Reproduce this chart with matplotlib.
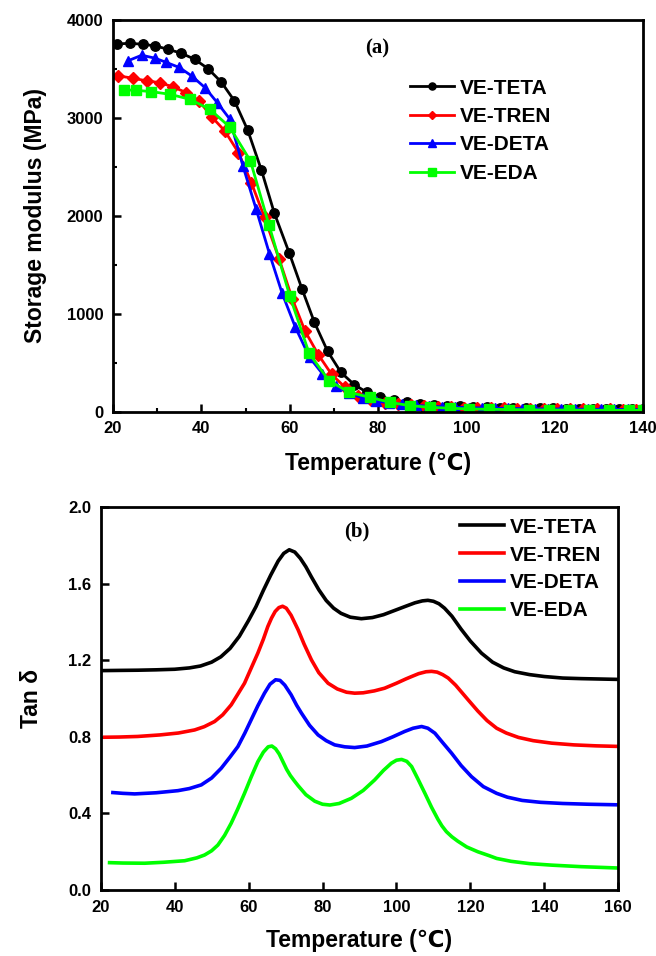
import numpy as np
import matplotlib.pyplot as plt
from matplotlib.ticker import MultipleLocator

plt.rcParams['font.family'] = ['Liberation Sans', 'DejaVu Sans']
plt.rcParams['font.weight'] = 'bold'

# ---- (a) storage modulus ----
teta_t = [20.9, 23.8, 26.7, 29.6, 32.5, 35.5, 38.5, 41.5, 44.5, 47.5, 50.5, 53.6, 56.5, 59.9,
          62.8, 65.6, 68.6, 71.6, 74.6, 77.5, 80.5, 83.5, 86.6, 89.6, 92.6, 95.6, 98.6, 101.6,
          104.6, 107.6, 110.6, 113.6, 116.6, 119.6, 122.6, 125.6, 128.6, 131.6, 134.6, 137.6, 140]
teta_e = [3755, 3762, 3752, 3735, 3700, 3660, 3598, 3503, 3367, 3173, 2874, 2466, 2030, 1620,
          1251, 911, 615, 401, 276, 197, 153, 119, 95, 80, 68, 60, 54, 49,
          45, 42, 39, 37, 35, 33, 31, 30, 29, 28, 27, 26, 25]

tren_t = [21.2, 24.6, 27.6, 30.6, 33.6, 36.6, 39.5, 42.3, 45.3, 48.4, 51.3, 54.3, 57.6, 60.6,
          63.5, 66.5, 69.5, 72.5, 75.5, 78.5, 81.5, 84.5, 87.5, 90.5, 93.5, 96.5, 99.5, 102.5,
          105.5, 108.5, 111.5, 114.5, 117.5, 120.5, 123.5, 126.5, 129.5, 132.5, 135.5, 138.5]
tren_e = [3429, 3405, 3378, 3360, 3316, 3258, 3173, 3013, 2867, 2646, 2340, 1983, 1560, 1150,
          820, 580, 380, 250, 160, 115, 90, 75, 63, 55, 49, 45, 41, 38,
          35, 33, 31, 29, 27, 26, 25, 24, 23, 22, 21, 20]

deta_t = [23.3, 26.5, 29.5, 32.1, 35.0, 37.8, 40.8, 43.6, 46.4, 49.4, 52.4, 55.4, 58.3, 61.3,
          64.5, 67.4, 70.5, 73.5, 76.5, 79.5, 82.5, 85.5, 88.5, 91.5, 94.5, 97.5, 100.5, 103.5,
          106.5, 109.5, 112.5, 115.5, 118.5, 121.5, 124.5, 127.5, 130.5, 133.5, 136.5, 139.5]
deta_e = [3582, 3640, 3610, 3566, 3515, 3429, 3310, 3156, 2990, 2510, 2068, 1615, 1207, 860,
          554, 388, 265, 190, 140, 110, 90, 75, 64, 56, 50, 45, 41, 38,
          35, 33, 31, 29, 28, 27, 26, 25, 24, 23, 22, 21]

eda_t = [22.5, 25.3, 28.7, 32.9, 37.4, 41.9, 46.4, 51.1, 55.3, 60.0, 64.4, 68.9, 73.5, 78.2,
         82.7, 87.2, 91.7, 96.2, 100.7, 105.2, 109.7, 114.2, 118.7, 123.2, 127.7, 132.2, 136.7, 140]
eda_e = [3286, 3282, 3268, 3241, 3190, 3088, 2908, 2561, 1908, 1184, 595, 316, 197, 146,
         95, 61, 45, 35, 28, 24, 21, 19, 17, 16, 15, 14, 13, 13]

# ---- (b) tan delta ----
tan_teta_t = [20.6, 25, 30, 35, 40, 44, 47, 50, 52.5, 55, 57.5, 60, 62, 64, 66, 68, 69.5, 71,
              72.5, 74, 75.5, 77, 79, 81, 83, 85, 87.5, 90.5, 93.5, 96.5, 99.5, 102.5, 105, 107,
              108.5, 110, 111.5, 113, 115, 117.5, 120, 123, 126, 129, 132, 136, 140, 145, 150,
              155, 160]
tan_teta = [1.146, 1.147, 1.148, 1.150, 1.153, 1.160, 1.170, 1.190, 1.218, 1.262, 1.325, 1.408,
            1.480, 1.565, 1.645, 1.718, 1.758, 1.777, 1.765, 1.732, 1.688, 1.635, 1.568, 1.512,
            1.472, 1.445, 1.425, 1.417, 1.423, 1.438, 1.460, 1.482, 1.500, 1.510, 1.513, 1.508,
            1.495, 1.472, 1.430, 1.362, 1.300, 1.237, 1.190, 1.160, 1.140, 1.125, 1.115, 1.107,
            1.104, 1.102, 1.100]

tan_tren_t = [21.1, 25, 30, 36, 41, 45.4, 48, 50.8, 53, 55.3, 57, 58.9, 60.5, 62.5, 64, 65.2,
              66.2, 67.2, 68.2, 69.2, 70.2, 71.5, 73.4, 75, 77, 79, 81.5, 84, 86.5, 88.7, 91, 94,
              96.8, 100, 102.5, 104.1, 106, 108, 109.5, 111, 112.5, 114, 116, 119.4, 122, 124.5,
              127.1, 129.7, 133, 137, 142, 148, 154, 160]
tan_tren = [0.798, 0.799, 0.802, 0.810, 0.820, 0.836, 0.853, 0.880, 0.915, 0.967, 1.020, 1.080,
            1.150, 1.237, 1.310, 1.376, 1.420, 1.455, 1.475, 1.482, 1.472, 1.435, 1.359, 1.285,
            1.202, 1.135, 1.080, 1.050, 1.033, 1.028, 1.030, 1.040, 1.054, 1.080, 1.102, 1.115,
            1.130, 1.140, 1.142, 1.138, 1.125, 1.107, 1.070, 0.993, 0.935, 0.885, 0.845, 0.820,
            0.797, 0.780, 0.767, 0.758, 0.753, 0.750]

tan_deta_t = [23.3, 26, 29.2, 35, 40.9, 44, 47.2, 50, 52.6, 55, 57.1, 59, 60.7, 62.5, 64.3,
              65.8, 67.3, 68.5, 69.8, 71.5, 73, 74.3, 76.5, 78.8, 81, 83.3, 86, 88.7, 92, 95.9,
              99, 102.2, 104.5, 106.8, 108.5, 110.4, 112.5, 114.9, 117.5, 120.3, 123.5, 127.1,
              130, 134, 139, 145, 152, 160]
tan_deta = [0.509, 0.505, 0.502, 0.508, 0.519, 0.530, 0.549, 0.585, 0.636, 0.695, 0.749, 0.820,
            0.889, 0.962, 1.028, 1.075, 1.098, 1.095, 1.070, 1.020, 0.965, 0.924, 0.860, 0.810,
            0.780, 0.758, 0.748, 0.744, 0.752, 0.775, 0.800, 0.828, 0.845, 0.854, 0.845, 0.819,
            0.770, 0.715, 0.650, 0.592, 0.540, 0.505, 0.485, 0.468, 0.458, 0.452, 0.448, 0.445]

tan_eda_t = [22.4, 26, 31.9, 37, 42.7, 46, 48.1, 50, 51.7, 53.5, 55.3, 57, 58.9, 60.7, 62.5, 64,
             65.3, 66.3, 67.3, 68.3, 69.3, 70.3, 71.3, 72.3, 73.4, 75.5, 77.9, 80, 82, 84.5, 87.8,
             91, 94.1, 96.5, 98.6, 100, 101.4, 102.8, 104.1, 105.8, 107.7, 109.5, 111.2, 112.3,
             113.5, 115, 116.6, 119, 122, 125, 127.1, 131, 136, 142, 150, 160]
tan_eda = [0.143, 0.141, 0.140, 0.145, 0.153, 0.168, 0.183, 0.205, 0.235, 0.285, 0.349, 0.420,
           0.505, 0.590, 0.670, 0.720, 0.748, 0.752, 0.738, 0.710, 0.670, 0.630, 0.598, 0.572,
           0.545, 0.498, 0.464, 0.448, 0.444, 0.452, 0.479, 0.520, 0.575, 0.625, 0.662, 0.678,
           0.682, 0.672, 0.645, 0.580, 0.505, 0.432, 0.370, 0.335, 0.305, 0.278, 0.255, 0.225,
           0.200, 0.180, 0.165, 0.150, 0.138, 0.130, 0.122, 0.115]

labels = ['VE-TETA', 'VE-TREN', 'VE-DETA', 'VE-EDA']
colors = ['black', '#ff0000', '#0000ff', '#00ff00']
markers = ['o', 'D', '^', 's']

fig = plt.figure(figsize=(6.56, 9.56), dpi=100)
ax1 = fig.add_axes([0.1723, 0.5694, 0.808, 0.4097])
ax2 = fig.add_axes([0.1535, 0.069, 0.789, 0.4006])

series_a = [(teta_t, teta_e), (tren_t, tren_e), (deta_t, deta_e), (eda_t, eda_e)]
for (t, e), lab, c, m in zip(series_a, labels, colors, markers):
    ax1.plot(t, e, color=c, marker=m, markersize=6.8 if m != 'D' else 5.8,
             lw=2.0, label=lab)

series_b = [(tan_teta_t, tan_teta), (tan_tren_t, tan_tren),
            (tan_deta_t, tan_deta), (tan_eda_t, tan_eda)]
for (t, v), lab, c in zip(series_b, labels, colors):
    ax2.plot(t, v, color=c, lw=2.6, label=lab)

ax1.set_xlim(20, 140)
ax1.set_ylim(0, 4000)
ax1.xaxis.set_major_locator(MultipleLocator(20))
ax1.xaxis.set_minor_locator(MultipleLocator(10))
ax1.yaxis.set_major_locator(MultipleLocator(1000))
ax1.yaxis.set_minor_locator(MultipleLocator(500))

ax2.set_xlim(20, 160)
ax2.set_ylim(0, 2.0)
ax2.xaxis.set_major_locator(MultipleLocator(20))
ax2.yaxis.set_major_locator(MultipleLocator(0.4))
ax2.yaxis.set_major_formatter(plt.FormatStrFormatter('%.1f'))

for ax in (ax1, ax2):
    for s in ax.spines.values():
        s.set_linewidth(2)
    ax.tick_params(which='major', direction='in', length=6, width=1.8, labelsize=12, pad=7)
    ax.tick_params(which='minor', direction='in', length=3, width=1.5)
    for lbl in ax.get_xticklabels() + ax.get_yticklabels():
        lbl.set_fontweight('bold')

ax1.set_xlabel('Temperature (℃)', fontsize=16.5, fontweight='bold', labelpad=11)
ax1.set_ylabel('Storage modulus (MPa)', fontsize=16.5, fontweight='bold', labelpad=14)
ax2.set_xlabel('Temperature (℃)', fontsize=16.5, fontweight='bold', labelpad=10)
ax2.set_ylabel('Tan δ', fontsize=16.5, fontweight='bold', labelpad=18)

ax1.text(0.498, 0.926, '(a)', transform=ax1.transAxes, ha='center', va='center',
         fontsize=15, fontweight='bold', family='Liberation Serif')
ax2.text(0.495, 0.935, '(b)', transform=ax2.transAxes, ha='center', va='center',
         fontsize=15, fontweight='bold', family='Liberation Serif')

leg_kw = dict(frameon=False, fontsize=15, handlelength=2.1, handletextpad=0.3,
              borderpad=0, borderaxespad=0, loc='upper left')
lg1 = ax1.legend(bbox_to_anchor=(0.56, 0.85), markerscale=0.75, labelspacing=0.45, **leg_kw)
lg2 = ax2.legend(bbox_to_anchor=(0.694, 0.972), labelspacing=0.42, **leg_kw)
for lg in (lg1, lg2):
    for txt in lg.get_texts():
        txt.set_fontweight('bold')

fig.savefig('out.png', dpi=100)
